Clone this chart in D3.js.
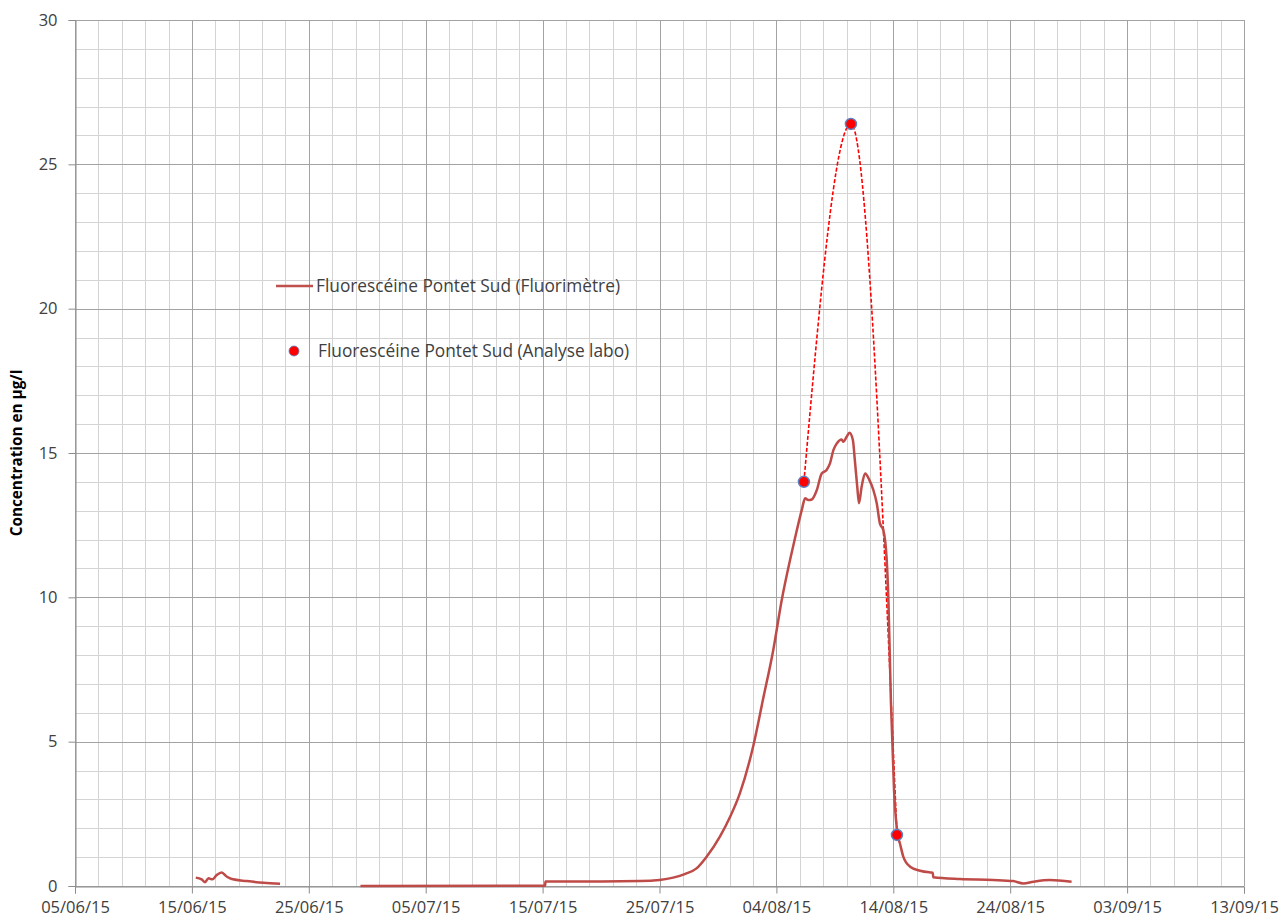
<!DOCTYPE html>
<html>
<head>
<meta charset="utf-8">
<script src="https://cdn.jsdelivr.net/npm/d3@7"></script>
<style>
  html, body { margin: 0; padding: 0; background: #fff; }
  svg { display: block; }
  text { font-family: "Open Sans", "Liberation Sans", sans-serif; }
</style>
</head>
<body>
<svg id="chart" width="1283" height="923"></svg>
<script>
// Fluorimeter record (continuous probe); null marks a gap in the record
const fluoTimes = [
  "2015-06-15T08:00", "2015-06-15T20:00", "2015-06-16T03:00", "2015-06-16T10:00",
  "2015-06-16T18:00", "2015-06-17T03:00", "2015-06-17T13:00", "2015-06-18T00:00",
  "2015-06-18T10:00", "2015-06-19T17:00", "2015-06-21T03:00", "2015-06-22T13:00",
  null,
  "2015-06-29T10:00", "2015-07-15T05:00", "2015-07-15T06:00", "2015-07-20T00:00",
  "2015-07-23T08:00", "2015-07-25T00:00", "2015-07-26T04:00", "2015-07-27T05:00",
  "2015-07-28T04:00", "2015-07-29T01:00", "2015-07-30T04:00", "2015-07-31T01:00",
  "2015-07-31T21:00", "2015-08-02T00:30", "2015-08-02T21:00", "2015-08-03T17:30",
  "2015-08-04T11:00", "2015-08-05T04:00", "2015-08-05T18:00", "2015-08-06T04:00",
  "2015-08-06T11:00", "2015-08-06T17:30", "2015-08-07T00:30", "2015-08-07T11:00",
  "2015-08-07T21:00", "2015-08-08T07:00", "2015-08-08T14:00", "2015-08-08T21:00",
  "2015-08-09T04:00", "2015-08-09T14:00", "2015-08-09T17:00", "2015-08-10T00:15",
  "2015-08-10T06:00", "2015-08-10T13:00", "2015-08-10T17:00", "2015-08-10T22:00",
  "2015-08-11T01:30", "2015-08-11T07:00", "2015-08-11T14:00", "2015-08-11T23:00",
  "2015-08-12T07:00", "2015-08-12T14:00", "2015-08-12T20:30", "2015-08-13T03:30",
  "2015-08-13T10:30", "2015-08-13T14:00", "2015-08-13T19:00", "2015-08-14T01:30",
  "2015-08-14T09:00", "2015-08-14T13:30", "2015-08-14T20:30", "2015-08-15T10:30",
  "2015-08-16T07:00", "2015-08-17T03:30", "2015-08-17T09:00", "2015-08-17T10:00",
  "2015-08-19T17:00", "2015-08-22T13:00", "2015-08-24T06:00", "2015-08-25T03:00",
  "2015-08-25T23:30", "2015-08-27T09:30", "2015-08-29T06:00"
];
const fluoValues = [
  0.29, 0.23, 0.13, 0.27,
  0.23, 0.38, 0.47, 0.32,
  0.24, 0.17, 0.11, 0.08,
  null,
  0.00, 0.01, 0.16, 0.16,
  0.17, 0.21, 0.29, 0.42,
  0.61, 1.02, 1.71, 2.40,
  3.21, 4.85, 6.50, 8.17,
  9.91, 11.29, 12.33, 13.02,
  13.43, 13.37, 13.39, 13.72,
  14.29, 14.41, 14.64, 15.10,
  15.33, 15.47, 15.39, 15.56,
  15.70, 15.45, 14.76, 13.83,
  13.26, 13.83, 14.29, 14.06,
  13.72, 13.26, 12.56, 12.33,
  11.29, 9.90, 6.44, 3.33,
  1.77, 1.48, 1.02, 0.67,
  0.53, 0.47, 0.46, 0.30,
  0.24, 0.21, 0.17, 0.09,
  0.15, 0.21, 0.15
];

// Laboratory analyses (grab samples)
const labTimes = ["2015-08-06T08:30", "2015-08-10T09:00", "2015-08-14T07:30"];
const labValues = [14.0, 26.4, 1.77];

// Axis ticks
const xTickLabels = ["05/06/15", "15/06/15", "25/06/15", "05/07/15", "15/07/15", "25/07/15",
                     "04/08/15", "14/08/15", "24/08/15", "03/09/15", "13/09/15"];
const yTickValues = [0, 5, 10, 15, 20, 25, 30];

const seriesNames = ["Fluorescéine Pontet Sud (Fluorimètre)", "Fluorescéine Pontet Sud (Analyse labo)"];
const yTitle = "Concentration en µg/l";

const parseTime = d3.timeParse("%Y-%m-%dT%H:%M");
const parseTick = d3.timeParse("%d/%m/%y");

const fluo = fluoTimes.map((t, i) => ({ t: t ? parseTime(t) : null, v: fluoValues[i] }));
const lab = labTimes.map((t, i) => ({ t: parseTime(t), v: labValues[i] }));
const xTicks = xTickLabels.map(parseTick);

const svg = d3.select("#chart");
const margin = { left: 75, right: 39, top: 20, bottom: 37 };
const W = 1283, H = 923;
const x0 = margin.left, x1 = W - margin.right, y0 = H - margin.bottom, y1 = margin.top;

const x = d3.scaleTime().domain([xTicks[0], xTicks[xTicks.length - 1]]).range([x0, x1]);
const y = d3.scaleLinear().domain([0, 30]).range([y0, y1]);

// Minor grid: every 2 days and every 1 µg/l
const minorX = d3.timeDay.range(xTicks[0], d3.timeDay.offset(xTicks[xTicks.length - 1], 1), 2);
const minorY = d3.range(0, 31, 1);

const grid = svg.append("g");
grid.selectAll("line.mx").data(minorX).join("line")
  .attr("x1", d => Math.round(x(d)) + 0.5).attr("x2", d => Math.round(x(d)) + 0.5)
  .attr("y1", y1).attr("y2", y0)
  .attr("stroke", "#d4d4d4").attr("stroke-width", 1);
grid.selectAll("line.my").data(minorY).join("line")
  .attr("y1", d => Math.round(y(d)) + 0.5).attr("y2", d => Math.round(y(d)) + 0.5)
  .attr("x1", x0).attr("x2", x1)
  .attr("stroke", "#d4d4d4").attr("stroke-width", 1);
// Major grid
grid.selectAll("line.Mx").data(xTicks).join("line")
  .attr("x1", d => Math.round(x(d)) + 0.5).attr("x2", d => Math.round(x(d)) + 0.5)
  .attr("y1", y1).attr("y2", y0)
  .attr("stroke", "#a3a3a3").attr("stroke-width", 1);
grid.selectAll("line.My").data(yTickValues).join("line")
  .attr("y1", d => Math.round(y(d)) + 0.5).attr("y2", d => Math.round(y(d)) + 0.5)
  .attr("x1", x0).attr("x2", x1)
  .attr("stroke", "#a3a3a3").attr("stroke-width", 1);

// Axes
const xAxis = d3.axisBottom(x).tickValues(xTicks)
  .tickFormat((d, i) => xTickLabels[i]).tickSize(7).tickPadding(8);
const yAxis = d3.axisLeft(y).tickValues(yTickValues).tickSize(7).tickPadding(11);

const gx = svg.append("g").attr("transform", `translate(0,${y0 + 0.5})`).call(xAxis);
const gy = svg.append("g").attr("transform", `translate(${x0 + 0.5},0)`).call(yAxis);
[gx, gy].forEach(g => {
  g.select(".domain").attr("stroke", "#8c8c8c");
  g.selectAll(".tick line").attr("stroke", "#8c8c8c");
  g.selectAll(".tick text").attr("fill", "#404040").style("font-size", "16.5px");
});

// Y-axis title
svg.append("text")
  .attr("transform", `translate(22,${(y0 + y1) / 2}) rotate(-90)`)
  .attr("text-anchor", "middle")
  .style("font-size", "15.3px").style("font-weight", "bold")
  .attr("fill", "#000")
  .text(yTitle);

// Lab interpolation (dashed)
const labLine = d3.line().x(d => x(d.t)).y(d => y(d.v)).curve(d3.curveMonotoneX);
svg.append("path").datum(lab)
  .attr("d", labLine)
  .attr("fill", "none").attr("stroke", "#ff0000")
  .attr("stroke-width", 1.6).attr("stroke-dasharray", "4,2");

// Fluorimeter line
const fluoLine = d3.line().defined(d => d.v !== null)
  .x(d => x(d.t)).y(d => y(d.v)).curve(d3.curveMonotoneX);
svg.append("path").datum(fluo)
  .attr("d", fluoLine)
  .attr("fill", "none").attr("stroke", "#be4b48")
  .attr("stroke-width", 2.5).attr("stroke-linejoin", "round");

// Lab markers
svg.selectAll("circle.lab").data(lab).join("circle")
  .attr("cx", d => x(d.t)).attr("cy", d => y(d.v)).attr("r", 5.5)
  .attr("fill", "#ff0000").attr("stroke", "#5b82c2").attr("stroke-width", 1.5);

// Legend
const lg = svg.append("g");
lg.append("line").attr("x1", 276).attr("x2", 313).attr("y1", 286).attr("y2", 286)
  .attr("stroke", "#c0504d").attr("stroke-width", 2.5);
lg.append("text").attr("x", 316).attr("y", 286).attr("dy", "0.35em")
  .style("font-size", "17.3px").attr("fill", "#404040").text(seriesNames[0]);
lg.append("circle").attr("cx", 294).attr("cy", 351).attr("r", 5)
  .attr("fill", "#ff0000").attr("stroke", "#5b82c2").attr("stroke-width", 0.8);
lg.append("text").attr("x", 318).attr("y", 351).attr("dy", "0.35em")
  .style("font-size", "17.3px").attr("fill", "#404040").text(seriesNames[1]);
</script>
</body>
</html>
